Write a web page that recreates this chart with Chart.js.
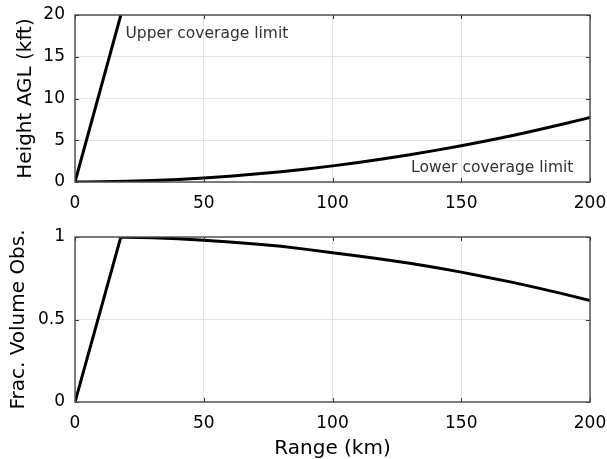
<!DOCTYPE html>
<html>
<head>
<meta charset="utf-8">
<script src="https://cdn.jsdelivr.net/npm/chart.js@4.4.1/dist/chart.umd.min.js"></script>
<style>
  body { margin: 0; background: #fff; }
  #wrap { position: relative; width: 607px; height: 459px; }
  canvas { position: absolute; left: 0; }
  #heightChart { top: 0; }
  #fracChart { top: 220px; }
</style>
</head>
<body>
<div id="wrap">
  <canvas id="heightChart" width="607" height="220"></canvas>
  <canvas id="fracChart" width="607" height="239"></canvas>
</div>
<script>
// upper coverage limit (straight line until it leaves the panel)
const upperRangeKm = [0, 17.8];
const upperHeightKft = [0, 20];

// lower coverage limit, every 10 km
const lowerRangeKm = [0, 10, 20, 30, 40, 50, 60, 70, 80, 90, 100, 110, 120, 130, 140, 150, 160, 170, 180, 190, 200];
const lowerHeightKft = [0, 0.02, 0.08, 0.17, 0.31, 0.48, 0.70, 0.95, 1.24, 1.56, 1.93, 2.34, 2.78, 3.26, 3.79, 4.35, 4.94, 5.58, 6.26, 6.97, 7.72];

// fraction of the volume observed
const fracRangeKm = [0, 17.8, 20, 30, 40, 50, 60, 70, 80, 90, 100, 110, 120, 130, 140, 150, 160, 170, 180, 190, 200];
const fracVolume = [0, 1.0, 0.999, 0.995, 0.99, 0.98, 0.97, 0.958, 0.944, 0.925, 0.905, 0.885, 0.864, 0.841, 0.815, 0.787, 0.756, 0.725, 0.69, 0.654, 0.615];

const FONT = '"DejaVu Sans", sans-serif';

function toPoints(xs, ys) {
    return xs.map((x, i) => ({ x: x, y: ys[i] }));
}

// box round the plot area plus small inward tick marks on all four sides
const framePlugin = {
    id: 'frame',
    afterDraw(chart) {
        const ctx = chart.ctx;
        const a = chart.chartArea;
        const xs = chart.scales.x, ys = chart.scales.y;
        ctx.save();
        ctx.strokeStyle = '#333';
        ctx.lineWidth = 1;
        ctx.beginPath();
        xs.ticks.forEach(t => {
            const px = Math.round(xs.getPixelForValue(t.value)) + 0.5;
            ctx.moveTo(px, a.bottom); ctx.lineTo(px, a.bottom - 4);
            ctx.moveTo(px, a.top); ctx.lineTo(px, a.top + 4);
        });
        ys.ticks.forEach(t => {
            const py = Math.round(ys.getPixelForValue(t.value)) + 0.5;
            ctx.moveTo(a.left, py); ctx.lineTo(a.left + 4, py);
            ctx.moveTo(a.right, py); ctx.lineTo(a.right - 4, py);
        });
        ctx.stroke();
        ctx.strokeStyle = '#4a4a4a';
        ctx.lineWidth = 1.4;
        ctx.strokeRect(a.left, a.top, a.right - a.left, a.bottom - a.top);
        ctx.restore();
    }
};

// text labels placed in data coordinates
const notesPlugin = {
    id: 'notes',
    afterDraw(chart, args, opts) {
        if (!opts.items) return;
        const ctx = chart.ctx;
        ctx.save();
        ctx.font = '15.5px ' + FONT;
        ctx.fillStyle = '#333';
        ctx.textBaseline = 'alphabetic';
        opts.items.forEach(n => {
            ctx.fillText(n.text, chart.scales.x.getPixelForValue(n.x), chart.scales.y.getPixelForValue(n.y));
        });
        ctx.restore();
    }
};

function makeOptions(cfg) {
    return {
        responsive: false,
        animation: false,
        devicePixelRatio: 1,
        layout: { padding: { left: 0, right: 17, top: cfg.top, bottom: 0 } },
        plugins: {
            legend: { display: false },
            tooltip: { enabled: false },
            notes: { items: cfg.notes }
        },
        elements: { point: { radius: 0 } },
        scales: {
            x: {
                type: 'linear',
                min: 0, max: 200,
                // fixed height, and no extra room reserved for the end labels
                afterFit: s => { s.height = cfg.xHeight; s.paddingLeft = 0; s.paddingRight = 0; },
                ticks: { stepSize: 50, padding: 11, color: '#000', font: { family: FONT, size: 17 } },
                grid: { color: '#e2e2e2', drawTicks: false },
                border: { display: false },
                title: {
                    display: !!cfg.xTitle,
                    text: cfg.xTitle || '',
                    color: '#000',
                    font: { family: FONT, size: 20, lineHeight: 1 },
                    padding: { top: 0, bottom: 0 }
                }
            },
            y: {
                type: 'linear',
                min: cfg.yMin, max: cfg.yMax,
                afterFit: s => { s.width = 75; s.paddingTop = 0; s.paddingBottom = 0; },
                ticks: {
                    stepSize: cfg.yStep, padding: 10, color: '#000', font: { family: FONT, size: 17 },
                    callback: v => String(v)
                },
                grid: { color: '#e2e2e2', drawTicks: false },
                border: { display: false },
                title: {
                    display: true,
                    text: cfg.yTitle,
                    color: '#000',
                    font: { family: FONT, size: 20, lineHeight: 1 },
                    padding: { top: cfg.yTitlePad, bottom: 0 }
                }
            }
        }
    };
}

const lineStyle = { borderColor: '#000', borderWidth: 3, fill: false };

new Chart(document.getElementById('heightChart').getContext('2d'), {
    type: 'line',
    data: {
        datasets: [
            Object.assign({ label: 'Upper coverage limit', data: toPoints(upperRangeKm, upperHeightKft), tension: 0 }, lineStyle),
            Object.assign({ label: 'Lower coverage limit', data: toPoints(lowerRangeKm, lowerHeightKft), cubicInterpolationMode: 'monotone' }, lineStyle)
        ]
    },
    options: makeOptions({
        top: 15, xHeight: 38,
        yMin: 0, yMax: 20, yStep: 5,
        yTitle: 'Height AGL (kft)', yTitlePad: 16,
        notes: [
            { text: 'Upper coverage limit', x: 19.6, y: 17.2 },
            { text: 'Lower coverage limit', x: 130.5, y: 1.15 }
        ]
    }),
    plugins: [framePlugin, notesPlugin]
});

new Chart(document.getElementById('fracChart').getContext('2d'), {
    type: 'line',
    data: {
        datasets: [
            Object.assign({ label: 'Frac. Volume Obs.', data: toPoints(fracRangeKm, fracVolume), tension: 0 }, lineStyle)
        ]
    },
    options: makeOptions({
        top: 17, xHeight: 57,
        yMin: 0, yMax: 1, yStep: 0.5,
        yTitle: 'Frac. Volume Obs.', yTitlePad: 9,
        xTitle: 'Range (km)'
    }),
    plugins: [framePlugin, notesPlugin]
});
</script>
</body>
</html>
